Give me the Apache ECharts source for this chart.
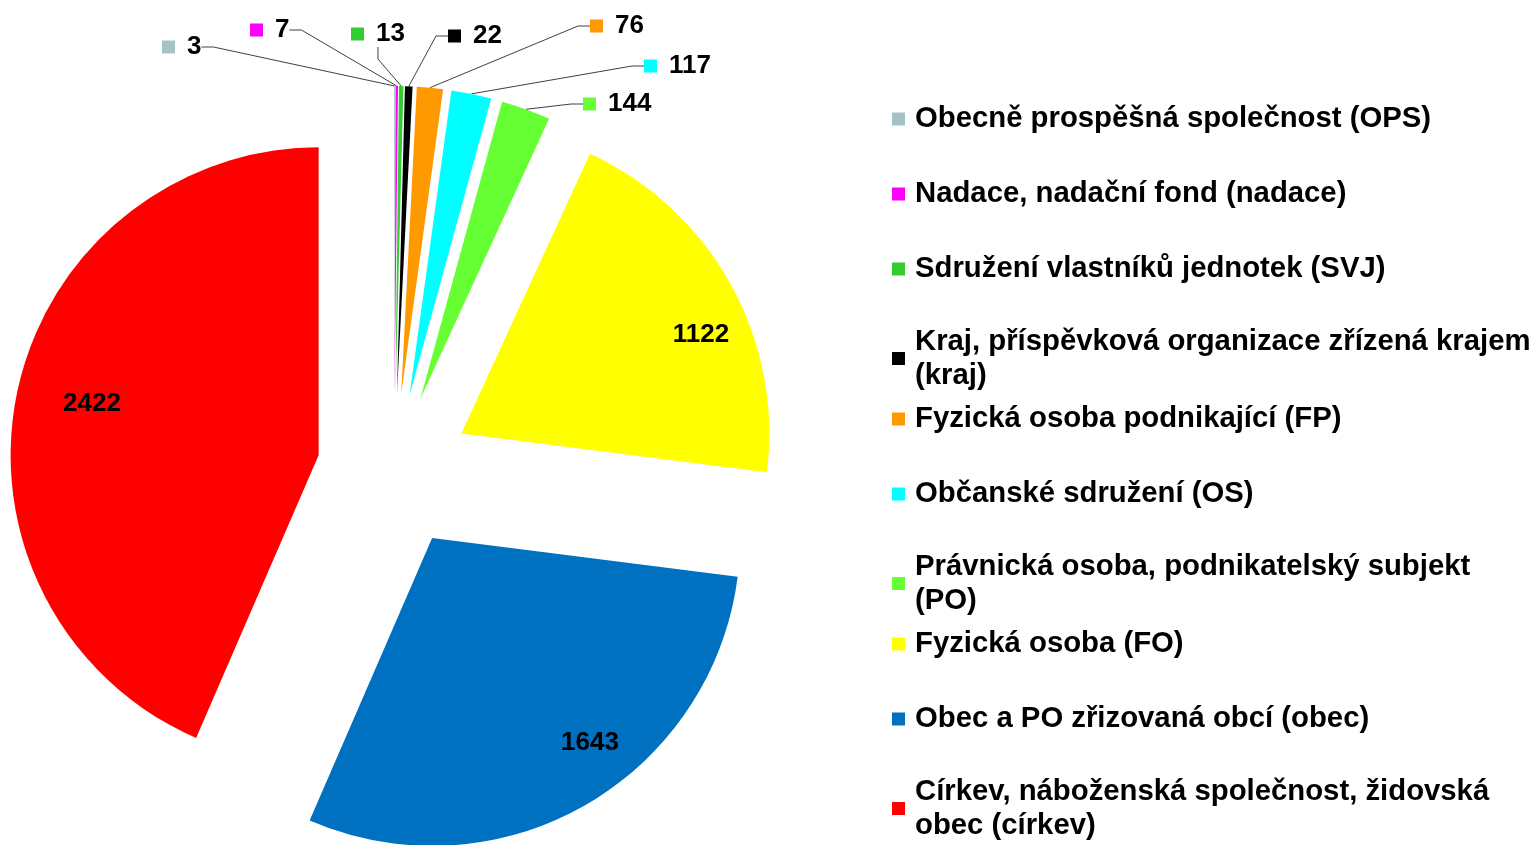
<!DOCTYPE html>
<html>
<head>
<meta charset="utf-8">
<title>Žadatelé podle právní formy</title>
<script src="https://cdn.jsdelivr.net/npm/echarts@6/dist/echarts.min.js"></script>
<style>
  html, body { margin: 0; padding: 0; background: #fff; }
  #chart { width: 1534px; height: 845px; }
</style>
</head>
<body>
<div id="chart"></div>
<script>
// slices, clockwise from 12 o'clock (same order as the legend)
const names = [
  'Obecně prospěšná společnost (OPS)',
  'Nadace, nadační fond (nadace)',
  'Sdružení vlastníků jednotek (SVJ)',
  'Kraj, příspěvková organizace zřízená krajem\n(kraj)',
  'Fyzická osoba podnikající (FP)',
  'Občanské sdružení (OS)',
  'Právnická osoba, podnikatelský subjekt\n(PO)',
  'Fyzická osoba (FO)',
  'Obec a PO zřizovaná obcí (obec)',
  'Církev, náboženská společnost, židovská\nobec (církev)'
];
const values = [3, 7, 13, 22, 76, 117, 144, 1122, 1643, 2422];
const colors = ['#a5c3c7', '#ff00ff', '#33cc33', '#000000', '#ff9900',
                '#00ffff', '#66ff33', '#ffff00', '#0070c0', '#ff0000'];

// first slices get a label outside (with leader line), the rest inside
const outsideCount = 7;
// where each value label sits (left-middle incl. padding for outside, centre for inside)
const labelPos = [[152, 47], [240, 30], [341, 34], [438, 36], [580, 26],
                  [634, 66], [573, 104], [701, 335], [590, 743], [92, 404]];

const pieCenter = [394, 471];
const pieRadius = 308;
const explode = 77;

const chart = echarts.init(document.getElementById('chart'));

const rich = {
  v: { fontFamily: 'Liberation Sans', fontWeight: 'bold', fontSize: 26, color: '#000', padding: [0, 0, 0, 12] },
  big: { fontFamily: 'Liberation Sans', fontWeight: 'bold', fontSize: 26, color: '#000' }
};
colors.forEach((c, i) => {
  rich['s' + i] = { width: 13, height: 13, backgroundColor: c };
});

// exploded pie: one pie series per slice, each one pushed out along its own mid angle,
// only its own slice is painted
const total = values.reduce((a, b) => a + b, 0);
let acc = 0;
const series = values.map((v, i) => {
  const mid = (acc + v / 2) / total * 2 * Math.PI;
  acc += v;
  const out = i < outsideCount;
  return {
    type: 'pie',
    center: [pieCenter[0] + explode * Math.sin(mid), pieCenter[1] - explode * Math.cos(mid)],
    radius: pieRadius,
    startAngle: 90,
    clockwise: true,
    avoidLabelOverlap: false,
    emphasis: { disabled: true },
    itemStyle: { borderWidth: 0 },
    label: {
      show: true,
      padding: out ? [3, 10, 3, 10] : 0,
      formatter: p => p.dataIndex < outsideCount
        ? '{s' + p.dataIndex + '|}{v|' + p.value + '}'
        : '{big|' + p.value + '}',
      rich: rich
    },
    labelLine: {
      length: 12,
      length2: 12,
      lineStyle: { color: '#404040', width: 1 }
    },
    labelLayout: function (params) {
      const p = labelPos[params.dataIndex];
      return { x: p[0], y: p[1], align: out ? 'left' : 'center', verticalAlign: 'middle' };
    },
    data: values.map((w, j) => ({
      name: names[j],
      value: w,
      itemStyle: { color: j === i ? colors[j] : 'rgba(0,0,0,0)' },
      label: { show: j === i, position: out ? 'outside' : 'inside' },
      labelLine: { show: j === i && out }
    }))
  };
});

// one legend block per item so wrapped names keep the even spacing
const legends = names.map((n, i) => ({
  data: [{ name: n, itemStyle: { color: colors[i] } }],
  orient: 'vertical',
  left: 887,
  top: 97 + 75 * i,
  icon: 'rect',
  itemWidth: 13,
  itemHeight: 13,
  selectedMode: false,
  textStyle: {
    fontFamily: 'Liberation Sans',
    fontWeight: 'bold',
    fontSize: 29.3,
    color: '#000',
    lineHeight: 34,
    height: 34,
    padding: [0, 0, 0, 5]
  }
}));

chart.setOption({
  animation: false,
  backgroundColor: '#fff',
  legend: legends,
  series: series
});
</script>
</body>
</html>
